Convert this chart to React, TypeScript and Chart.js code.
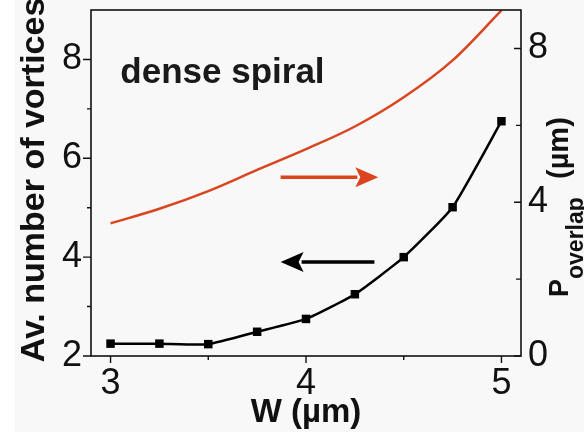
import React, { useEffect, useRef } from "react";
import { Chart, registerables } from "chart.js";

Chart.register(...registerables);

// Data
const W_VALUES = [3, 3.25, 3.5, 3.75, 4, 4.25, 4.5, 4.75, 5];
const AV_VORTICES = [2.25, 2.25, 2.24, 2.49, 2.75, 3.25, 4.0, 5.01, 6.75];
const P_OVERLAP = [3.45, 3.83, 4.29, 4.84, 5.38, 5.97, 6.73, 7.69, 8.99];

const X_TICKS = [3, 4, 5];
const X_MINOR = [3.5, 4.5];
const LEFT_TICKS = [2, 4, 6, 8];
const LEFT_MINOR = [3, 5, 7];
const RIGHT_TICKS = [0, 4, 8];
const RIGHT_MINOR = [2, 6];

const ANNOTATION_TEXT = "dense spiral";
const X_TITLE = "W (\u00b5m)";
const LEFT_TITLE = "Av. number of vortices";
const RIGHT_TITLE_MAIN = "P";
const RIGHT_TITLE_SUB = "overlap";
const RIGHT_TITLE_UNIT = "(\u00b5m)";

const RED = "#da4520";
const FONT = "'Liberation Sans', Arial, sans-serif";

function drawArrow(ctx: CanvasRenderingContext2D, x0: number, x1: number, y: number, color: string) {
  const dir = x1 > x0 ? 1 : -1;
  const headLen = 23;
  const headHalf = 10;
  ctx.save();
  ctx.strokeStyle = color;
  ctx.fillStyle = color;
  ctx.lineWidth = 3.5;
  ctx.beginPath();
  ctx.moveTo(x0, y);
  ctx.lineTo(x1 - dir * (headLen - 2), y);
  ctx.stroke();
  ctx.beginPath();
  ctx.moveTo(x1, y);
  ctx.lineTo(x1 - dir * headLen, y - headHalf);
  ctx.lineTo(x1 - dir * (headLen - 5), y);
  ctx.lineTo(x1 - dir * headLen, y + headHalf);
  ctx.closePath();
  ctx.fill();
  ctx.restore();
}

const customPlugin = {
  id: "customDraw",
  beforeDraw(chart: any) {
    const ctx = chart.ctx as CanvasRenderingContext2D;
    ctx.save();
    ctx.fillStyle = "#ffffff";
    ctx.fillRect(0, 0, chart.width, chart.height);
    ctx.fillStyle = "#f8f8f8";
    ctx.fillRect(15, 0, chart.width - 15, 432);
    ctx.restore();
  },
  afterDraw(chart: any) {
    const ctx = chart.ctx as CanvasRenderingContext2D;
    const { left, right, top, bottom } = chart.chartArea;
    const xs = chart.scales.x;
    const yl = chart.scales.y;
    const yr = chart.scales.y1;
    ctx.save();
    // frame
    ctx.strokeStyle = "#111";
    ctx.lineWidth = 1.6;
    ctx.strokeRect(left, top, right - left, bottom - top);
    // ticks
    ctx.lineWidth = 1.4;
    ctx.beginPath();
    X_TICKS.forEach((v) => {
      const px = xs.getPixelForValue(v);
      ctx.moveTo(px, bottom);
      ctx.lineTo(px, bottom + 7);
    });
    X_MINOR.forEach((v) => {
      const px = xs.getPixelForValue(v);
      ctx.moveTo(px, bottom);
      ctx.lineTo(px, bottom + 4);
    });
    LEFT_TICKS.forEach((v) => {
      const py = yl.getPixelForValue(v);
      ctx.moveTo(left, py);
      ctx.lineTo(left - 8, py);
    });
    LEFT_MINOR.forEach((v) => {
      const py = yl.getPixelForValue(v);
      ctx.moveTo(left, py);
      ctx.lineTo(left - 4, py);
    });
    RIGHT_TICKS.forEach((v) => {
      const py = yr.getPixelForValue(v);
      ctx.moveTo(right, py);
      ctx.lineTo(right - 7, py);
    });
    RIGHT_MINOR.forEach((v) => {
      const py = yr.getPixelForValue(v);
      ctx.moveTo(right, py);
      ctx.lineTo(right - 5, py);
    });
    ctx.stroke();

    // annotation text
    ctx.fillStyle = "#1a1a1a";
    ctx.font = `bold 35px ${FONT}`;
    ctx.textAlign = "left";
    ctx.textBaseline = "alphabetic";
    ctx.fillText(ANNOTATION_TEXT, xs.getPixelForValue(3.05), yl.getPixelForValue(7.52));

    // arrows
    drawArrow(ctx, xs.getPixelForValue(3.87), xs.getPixelForValue(4.37), yr.getPixelForValue(4.65), RED);
    drawArrow(ctx, xs.getPixelForValue(4.35), xs.getPixelForValue(3.87), yl.getPixelForValue(3.9), "#000");

    // x title
    ctx.fillStyle = "#111";
    ctx.font = `bold 33px ${FONT}`;
    ctx.textAlign = "center";
    ctx.fillText(X_TITLE, (left + right) / 2, 422);

    // left title
    ctx.save();
    ctx.translate(44, 180);
    ctx.rotate(-Math.PI / 2);
    ctx.font = `bold 34px ${FONT}`;
    ctx.textAlign = "center";
    ctx.fillText(LEFT_TITLE, 0, 0);
    ctx.restore();

    // right title
    ctx.save();
    ctx.translate(568, 297);
    ctx.rotate(-Math.PI / 2);
    ctx.textAlign = "left";
    ctx.font = `bold 27px ${FONT}`;
    ctx.fillText(RIGHT_TITLE_MAIN, 0, 0);
    const wP = ctx.measureText(RIGHT_TITLE_MAIN).width;
    ctx.font = `bold 23px ${FONT}`;
    ctx.fillText(RIGHT_TITLE_SUB, wP, 15);
    const wSub = ctx.measureText(RIGHT_TITLE_SUB).width;
    ctx.font = `bold 29px ${FONT}`;
    ctx.fillText(RIGHT_TITLE_UNIT, Math.max(wP + wSub + 10, 118), 0);
    ctx.restore();

    ctx.restore();
  },
};

const noPad = (s: any) => {
  s.paddingTop = 0;
  s.paddingBottom = 0;
  s.paddingLeft = 0;
  s.paddingRight = 0;
};

export default function App() {
  const ref = useRef<HTMLCanvasElement | null>(null);

  useEffect(() => {
    document.body.style.margin = "0";
    if (!ref.current) return;
    const tickFont = { family: FONT, size: 36 };
    const chart = new Chart(ref.current, {
      type: "line",
      data: {
        datasets: [
          {
            label: "Av. number of vortices",
            data: W_VALUES.map((w, i) => ({ x: w, y: AV_VORTICES[i] })),
            yAxisID: "y",
            borderColor: "#000",
            backgroundColor: "#000",
            borderWidth: 2.5,
            pointStyle: "rect",
            pointRadius: 6,
            pointBorderWidth: 0,
            tension: 0.15,
          },
          {
            label: "P overlap",
            data: W_VALUES.map((w, i) => ({ x: w, y: P_OVERLAP[i] })),
            yAxisID: "y1",
            borderColor: RED,
            backgroundColor: RED,
            borderWidth: 2.5,
            pointRadius: 0,
            cubicInterpolationMode: "monotone",
          },
        ],
      },
      options: {
        animation: false,
        responsive: false,
        devicePixelRatio: 1,
        layout: { padding: { top: 10, left: 0, right: 0, bottom: 0 } },
        plugins: { legend: { display: false }, tooltip: { enabled: false } },
        scales: {
          x: {
            type: "linear",
            min: 2.9,
            max: 5.1,
            grid: { display: false, drawTicks: false },
            border: { display: false },
            ticks: { font: tickFont, color: "#111", padding: 6 },
            afterBuildTicks: (s: any) => {
              s.ticks = X_TICKS.map((v) => ({ value: v }));
            },
            afterFit: (s: any) => {
              s.height = 83;
              noPad(s);
            },
          },
          y: {
            type: "linear",
            position: "left",
            min: 2,
            max: 9,
            grid: { display: false, drawTicks: false },
            border: { display: false },
            ticks: { font: tickFont, color: "#111", padding: 9 },
            afterBuildTicks: (s: any) => {
              s.ticks = LEFT_TICKS.map((v) => ({ value: v }));
            },
            afterFit: (s: any) => {
              s.width = 91;
              noPad(s);
            },
          },
          y1: {
            type: "linear",
            position: "right",
            min: 0,
            max: 9,
            grid: { display: false, drawTicks: false },
            border: { display: false },
            ticks: { font: tickFont, color: "#111", padding: 7 },
            afterBuildTicks: (s: any) => {
              s.ticks = RIGHT_TICKS.map((v) => ({ value: v }));
            },
            afterFit: (s: any) => {
              s.width = 63;
              noPad(s);
            },
          },
        },
      },
      plugins: [customPlugin],
    } as any);
    return () => chart.destroy();
  }, []);

  return (
    <div style={{ position: "fixed", left: 0, top: 0, width: 584, height: 439 }}>
      <canvas ref={ref} width={584} height={439} style={{ width: 584, height: 439 }} />
    </div>
  );
}
